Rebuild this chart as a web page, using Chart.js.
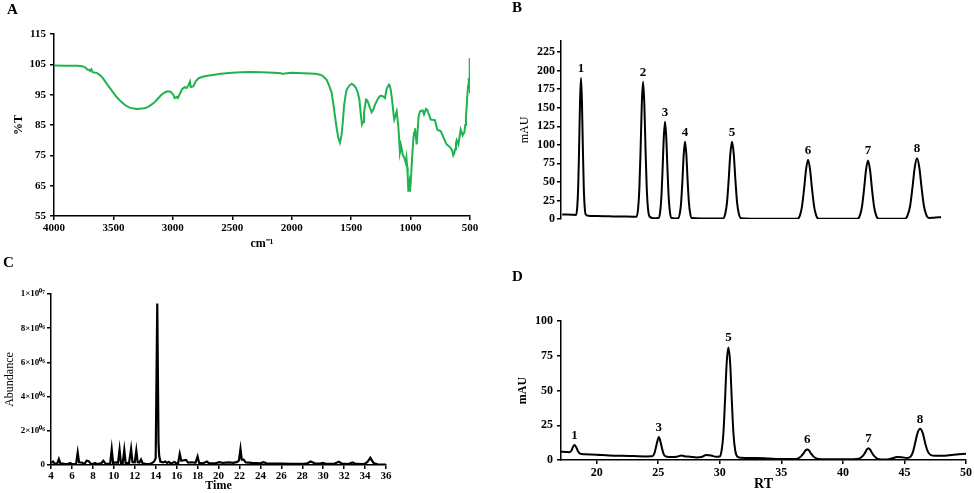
<!DOCTYPE html>
<html>
<head>
<meta charset="utf-8">
<script src="https://cdn.jsdelivr.net/npm/chart.js@4/dist/chart.umd.min.js"></script>
<style>
  html, body { margin: 0; padding: 0; background: #fff; }
  #wrap { position: relative; width: 974px; height: 493px; overflow: hidden; background: #fff; }
  canvas { position: absolute; left: 0; top: 0; }
  .lbl { position: absolute; font-family: "Liberation Serif", serif; font-weight: bold; font-size: 15px; line-height: 15px; color: #000; }
</style>
</head>
<body>
<div id="wrap">
  <canvas id="cA" width="974" height="493"></canvas>
  <canvas id="cB" width="974" height="493"></canvas>
  <canvas id="cC" width="974" height="493"></canvas>
  <canvas id="cD" width="974" height="493"></canvas>
  <div class="lbl" style="left:7px;top:2px;">A</div>
  <div class="lbl" style="left:512px;top:0px;">B</div>
  <div class="lbl" style="left:3px;top:255px;">C</div>
  <div class="lbl" style="left:512px;top:269px;">D</div>
</div>
<script>
// ---------- DATA ----------
// Panel A: FTIR spectrum [wavenumber cm-1, %T]
const ftirSpectrum = [[4000,104.6],[3900,104.5],[3800,104.5],[3762,104.4],[3735,103.9],[3720,103.3],[3705,103.2],[3697,102.8],[3686,103.4],[3675,102.4],[3636,102.1],[3600,101],[3579,99.9],[3545,98],[3509,96.1],[3475,94.3],[3439,92.8],[3400,91.5],[3369,90.8],[3330,90.4],[3299,90.3],[3260,90.4],[3229,90.6],[3195,91.3],[3159,92.3],[3130,93.5],[3102,94.7],[3075,95.6],[3047,96.1],[3019,96],[2996,95],[2985,93.9],[2967,94.3],[2957,93.9],[2940,95.4],[2921,96.9],[2901,97.5],[2884,97.2],[2867,98.3],[2856,99.3],[2850,97.5],[2828,97.7],[2808,99.4],[2780,100.5],[2740,101],[2710,101.2],[2650,101.6],[2598,101.9],[2500,102.2],[2429,102.4],[2350,102.5],[2250,102.4],[2150,102.2],[2090,102.1],[2075,101.8],[2060,102],[2000,102.2],[1900,102.1],[1800,101.9],[1762,101.6],[1740,101.2],[1706,99.9],[1685,98],[1664,95.6],[1650,92],[1636,87.9],[1622,84],[1608,80.8],[1594,79.2],[1580,81.9],[1570,86],[1560,91.2],[1548,94.5],[1538,96.6],[1515,98],[1495,98.6],[1475,98],[1459,97.2],[1445,95.8],[1431,93.4],[1420,89],[1409,85.2],[1400,86],[1392,89],[1375,93.4],[1365,93.2],[1356,92.3],[1340,90.5],[1327,89.2],[1313,90.2],[1299,91.7],[1280,93.2],[1263,94.4],[1245,94.7],[1230,94.4],[1215,93.9],[1201,96.9],[1190,97.8],[1182,98.3],[1175,98],[1167,96.6],[1158,94],[1150,91.2],[1143,88.5],[1137,86.8],[1128,88],[1117,89.5],[1110,87],[1103,84.6],[1096,80],[1089,75.9],[1078,77.8],[1066,75.3],[1053,74.2],[1041,72.6],[1035,74.2],[1028,71],[1024,68.2],[1019,63.3],[1014,65],[1010,66],[1005,63],[998,66.5],[991,71.5],[984,76],[977,80.2],[970,82.5],[963,83.9],[956,81.5],[949,78.6],[940,83.5],[932,87.9],[921,89.5],[910,89.7],[898,89.8],[887,88.5],[878,89.5],[870,90.3],[860,90],[851,89],[841,88],[831,86.8],[815,86.7],[795,86.6],[785,85],[776,83.5],[760,83.2],[747,83],[733,81.8],[719,80.5],[708,79.5],[697,78.6],[680,78.1],[663,77.5],[650,76.5],[641,75],[633,75.6],[626,77],[618,79],[612,80],[605,79.4],[598,78.6],[588,81],[578,83.5],[570,82.6],[562,81.6],[555,82.2],[548,82.4],[540,85],[534,87.9],[528,91],[523,94.4],[516,98],[511,100.5],[507,98.5],[504,99],[502,103.5],[501,107],[500,95.5]];
const ftirXTicks = [4000,3500,3000,2500,2000,1500,1000,500];
const ftirYTicks = [55,65,75,85,95,105,115];

// Panel B: HPLC of standards [RT, mAU]
const stdChromatogram = [[17.2,6],[17.6,5.9],[18.0,5.7],[18.33,5.5],[18.42,17],[18.495,44],[18.57,98],[18.645,160],[18.72,190],[18.795,160],[18.87,97],[18.945,43],[19.02,16],[19.11,6],[19.4,4.2],[20,3.9],[21,3.6],[22,3.3],[23.0,3.1],[23.23,3],[23.35,14.5],[23.45,41],[23.55,94],[23.65,156],[23.75,185],[23.85,156],[23.95,94],[24.05,41],[24.15,14],[24.27,3.5],[24.6,1],[25.01,1.5],[25.13,9],[25.23,28.5],[25.33,66],[25.43,110],[25.53,131],[25.63,110],[25.73,66],[25.83,28.5],[25.93,9],[26.05,1.5],[26.35,0.8],[26.6,1],[26.73,7.5],[26.835,22.5],[26.94,52],[27.045,87.5],[27.15,104],[27.255,87.5],[27.36,52],[27.465,22.5],[27.57,7.5],[27.7,1.2],[28.5,0.8],[29.5,0.7],[30.245,0.8],[30.41,7],[30.55,22],[30.685,52],[30.82,87.5],[30.96,104],[31.1,87.5],[31.235,52],[31.37,22],[31.51,7],[31.68,1],[32.5,0.5],[34,0.4],[35.5,0.3],[36.275,0.3],[36.47,5.3],[36.63,17],[36.795,40],[36.96,67],[37.12,80],[37.28,67],[37.445,40],[37.61,17],[37.77,5.3],[37.97,0.4],[39,0.2],[40.5,0.2],[41.135,0.2],[41.33,5.2],[41.49,16.8],[41.655,39.7],[41.82,66.5],[41.98,79],[42.14,66.5],[42.305,39.7],[42.47,16.8],[42.63,5.2],[42.83,0.4],[44,0.3],[44.975,0.4],[45.2,5.5],[45.39,17.5],[45.575,41.5],[45.76,69],[45.95,82],[46.14,69],[46.325,41.5],[46.51,17.5],[46.7,5.7],[46.93,1.5],[47.3,1.8],[47.9,2.5]];
const stdPeakLabels = ['1','2','3','4','5','6','7','8'];
const stdPeakRT = [18.72,23.75,25.53,27.15,30.96,37.12,41.98,45.95];
const stdPeakMAU = [190,185,131,104,104,80,79,82];
const stdYTicks = [0,25,50,75,100,125,150,175,200,225];

// Panel C: GC-MS total ion chromatogram [time, abundance]
const gcChromatogram = [[4.0,1.2e5],[4.2,2e5],[4.35,8e4],[4.6,9e4],[4.75,3.5e5],[4.9,9e4],[5.3,7e4],[5.6,6e4],[5.85,1.2e5],[6.0,5e4],[6.4,6e4],[6.55,7.3e5],[6.68,1.6e5],[7.0,1.3e5],[7.2,5e4],[7.4,2.5e5],[7.6,2.2e5],[7.8,8e4],[8.0,5e4],[8.2,1.2e5],[8.4,6e4],[8.8,1e5],[9.0,2.5e5],[9.2,8e4],[9.65,7e4],[9.8,9.2e5],[9.93,1.2e5],[10.2,1.5e5],[10.4,1.3e5],[10.55,9e5],[10.68,1.2e5],[10.85,1.1e5],[11.0,8.8e5],[11.13,1.2e5],[11.45,9e4],[11.65,9.5e5],[11.78,1.6e5],[12.0,1.5e5],[12.15,8.5e5],[12.28,1.6e5],[12.45,1.4e5],[12.6,3.2e5],[12.75,1e5],[13.1,5e4],[13.5,6e4],[13.85,2e5],[14.0,4e5],[14.15,9.45e6],[14.27,1.3e6],[14.33,5.5e5],[14.45,2e5],[14.7,1.5e5],[14.9,2e5],[15.1,1.2e5],[15.25,1.8e5],[15.45,9e4],[15.8,1.8e5],[16.0,8e4],[16.15,1.2e5],[16.3,6.5e5],[16.45,2.5e5],[16.7,2.8e5],[16.9,3e5],[17.1,1.4e5],[17.5,1.6e5],[17.8,1.3e5],[18.0,5e5],[18.15,1.2e5],[18.5,1e5],[18.9,2e5],[19.1,1e5],[19.6,9e4],[20.1,1.7e5],[20.4,1.2e5],[21.0,1.5e5],[21.4,1.3e5],[21.8,1.8e5],[21.95,2.6e5],[22.1,9.5e5],[22.22,3.2e5],[22.4,3.2e5],[22.6,1.5e5],[23.2,1.2e5],[24.0,1e5],[24.3,1.6e5],[24.6,1e5],[26.0,8e4],[27.0,7e4],[28.0,6e4],[28.5,1e5],[28.8,2e5],[29.2,1e5],[29.7,8e4],[30.0,1.2e5],[30.3,6e4],[31.0,6e4],[31.5,1.9e5],[31.8,8e4],[32.4,6e4],[32.8,1.5e5],[33.1,6e4],[33.9,5e4],[34.2,1.6e5],[34.5,4.2e5],[34.8,1.2e5],[35.2,4e4],[35.6,3e4],[36.0,3e4]];
const gcXTicks = [4,6,8,10,12,14,16,18,20,22,24,26,28,30,32,34,36];
const gcYTicks = [0,2e6,4e6,6e6,8e6,1e7];
const gcYTickLabels = ['0','2×10⁰⁶','4×10⁰⁶','6×10⁰⁶','8×10⁰⁶','1×10⁰⁷'];

// Panel D: HPLC of sample [RT, mAU]
const sampleChromatogram = [[17.1,6],[17.5,5.8],[17.8,5.6],[17.95,6.8],[18.07,9.3],[18.2,10.8],[18.33,9.3],[18.47,6.5],[18.65,4.6],[19,4.2],[20,3.8],[21,3.3],[22,3],[23,2.8],[24,2.6],[24.5,2.7],[24.65,4],[24.77,7.5],[24.9,12.5],[25.05,16.5],[25.2,12.5],[25.33,7.5],[25.45,4],[25.6,2.6],[25.9,2.2],[26.5,2.4],[26.9,3.2],[27.2,2.6],[27.6,2.4],[28.1,1.8],[28.5,2.1],[28.9,3.6],[29.3,3.2],[29.7,2.3],[29.985,2.5],[30.15,7],[30.29,19],[30.42,42],[30.56,70],[30.7,81],[30.84,70],[30.98,42],[31.11,19],[31.25,7],[31.42,2.5],[31.7,1.6],[33,1.4],[34,1],[35,0.7],[36,0.8],[36.3,1],[36.6,2.6],[36.8,4.8],[36.95,6.8],[37.1,7.5],[37.25,6.8],[37.4,4.8],[37.6,2.6],[37.9,1],[38.3,0.6],[39.5,0.5],[40.8,0.6],[41.3,1],[41.6,2.8],[41.8,5.3],[41.95,7.6],[42.07,8.5],[42.2,7.6],[42.35,5.3],[42.55,2.8],[42.85,0.8],[43.4,0.3],[44,1.2],[44.4,2.2],[44.8,2],[45.2,1.4],[45.5,2.4],[45.7,6],[45.85,11.5],[46.05,19],[46.27,22.5],[46.5,19],[46.7,11.5],[46.9,6],[47.15,3.5],[47.5,3],[48,3],[49,3.8],[50,4.5]];
const samplePeakLabels = ['1','3','5','6','7','8'];
const samplePeakRT = [18.2,25.05,30.7,37.1,42.07,46.27];
const samplePeakMAU = [10.8,16.5,81,7.5,8.5,22.5];
const sampleXTicks = [20,25,30,35,40,45,50];
const sampleYTicks = [0,25,50,75,100];

// ---------- CHARTS ----------
Chart.defaults.font.family = '"Liberation Serif", "Times New Roman", serif';
Chart.defaults.color = '#000';
Chart.defaults.animation = false;

const SERIF = '"Liberation Serif", "Times New Roman", serif';
const toXY = arr => arr.map(p => ({x: p[0], y: p[1]}));
const fixTicks = vals => (scale => { scale.ticks = vals.map(v => ({value: v})); });

const peakLabelPlugin = {
  id: 'peakLabels',
  afterDatasetsDraw(chart, args, opts) {
    if (!opts || !opts.labels) return;
    const ctx = chart.ctx, xs = chart.scales.x, ys = chart.scales.y;
    ctx.save();
    ctx.font = 'bold 13px ' + SERIF;
    ctx.fillStyle = '#000';
    ctx.textAlign = 'center';
    ctx.textBaseline = 'bottom';
    opts.labels.forEach((t, i) => {
      ctx.fillText(t, xs.getPixelForValue(opts.xs[i]), ys.getPixelForValue(opts.ys[i]) - 3);
    });
    ctx.restore();
  }
};

function axisStyle(extra) {
  return Object.assign({
    grid: { display: true, drawOnChartArea: false, drawTicks: true, tickLength: 4, color: '#000', lineWidth: 1.5 },
    border: { display: true, color: '#000', width: 1.5 }
  }, extra);
}

function makeChart(id, cfg) {
  return new Chart(document.getElementById(id), {
    type: 'line',
    data: { datasets: [{
      data: toXY(cfg.data), borderColor: cfg.color, borderWidth: cfg.lw || 2,
      pointRadius: 0, fill: false, tension: cfg.tension || 0,
      cubicInterpolationMode: cfg.monotone ? 'monotone' : 'default'
    }] },
    options: {
      responsive: false, devicePixelRatio: 1, animation: false,
      layout: { padding: cfg.pad, autoPadding: false },
      plugins: { legend: { display: false }, tooltip: { enabled: false }, peakLabels: cfg.peaks || {} },
      scales: { x: cfg.x, y: cfg.y }
    },
    plugins: [peakLabelPlugin]
  });
}

// Panel A
makeChart('cA', {
  data: ftirSpectrum, color: '#1db34f', lw: 2,
  pad: { left: 12, top: 34, right: 504, bottom: 242 },
  x: axisStyle({ type: 'linear', reverse: true, min: 500, max: 4000,
    afterBuildTicks: fixTicks(ftirXTicks), afterFit: s => { s.height = 35; },
    ticks: { padding: 2, font: { size: 11, weight: 'bold' }, callback: v => String(v), maxRotation: 0, autoSkip: false },
    title: { display: true, text: 'cm⁻¹', font: { size: 12, weight: 'bold' }, padding: 0 } }),
  y: axisStyle({ type: 'linear', min: 55, max: 115,
    afterBuildTicks: fixTicks(ftirYTicks), afterFit: s => { s.width = 42; },
    ticks: { padding: 4, font: { size: 11, weight: 'bold' }, callback: v => String(v) },
    title: { display: true, text: '%T', font: { size: 12, weight: 'bold' }, padding: 0 } })
});

// Panel B
makeChart('cB', {
  data: stdChromatogram, color: '#000', lw: 2, monotone: true,
  pad: { left: 518, top: 41, right: 7, bottom: 274 },
  peaks: { labels: stdPeakLabels, xs: stdPeakRT, ys: stdPeakMAU },
  x: { type: 'linear', min: 17.1, max: 50, display: false },
  y: axisStyle({ type: 'linear', min: 0, max: 240,
    afterBuildTicks: fixTicks(stdYTicks), afterFit: s => { s.width = 43; },
    ticks: { padding: 2, font: { size: 12, weight: 'bold' }, callback: v => String(v) },
    title: { display: true, text: 'mAU', font: { size: 12 }, padding: 0 } })
});

// Panel C
makeChart('cC', {
  data: gcChromatogram, color: '#000', lw: 2.2,
  pad: { left: 3, top: 294, right: 588, bottom: 0 },
  x: axisStyle({ type: 'linear', min: 4, max: 36,
    afterBuildTicks: fixTicks(gcXTicks), afterFit: s => { s.height = 28; },
    ticks: { padding: 1, font: { size: 11, weight: 'bold' }, callback: v => String(v), maxRotation: 0, autoSkip: false },
    title: { display: true, text: 'Time', font: { size: 12, weight: 'bold' }, padding: 0 } }),
  y: axisStyle({ type: 'linear', min: 0, max: 1e7,
    afterBuildTicks: fixTicks(gcYTicks), afterFit: s => { s.width = 48; },
    ticks: { padding: 2, font: { size: 9, weight: 'bold' }, callback: (v, i) => gcYTickLabels[i] },
    title: { display: true, text: 'Abundance', font: { size: 12 }, padding: 0 } })
});

// Panel D
makeChart('cD', {
  data: sampleChromatogram, color: '#000', lw: 2, monotone: true,
  pad: { left: 516, top: 321, right: 7, bottom: 0 },
  peaks: { labels: samplePeakLabels, xs: samplePeakRT, ys: samplePeakMAU },
  x: axisStyle({ type: 'linear', min: 17.1, max: 50,
    afterBuildTicks: fixTicks(sampleXTicks), afterFit: s => { s.height = 33; },
    ticks: { padding: 2, font: { size: 12, weight: 'bold' }, callback: v => String(v), maxRotation: 0, autoSkip: false },
    title: { display: true, text: 'RT', font: { size: 14, weight: 'bold' }, padding: 0 } }),
  y: axisStyle({ type: 'linear', min: 0, max: 100,
    afterBuildTicks: fixTicks(sampleYTicks), afterFit: s => { s.width = 45; },
    ticks: { padding: 4, font: { size: 12, weight: 'bold' }, callback: v => String(v) },
    title: { display: true, text: 'mAU', font: { size: 12, weight: 'bold' }, padding: 0 } })
});
</script>
</body>
</html>
